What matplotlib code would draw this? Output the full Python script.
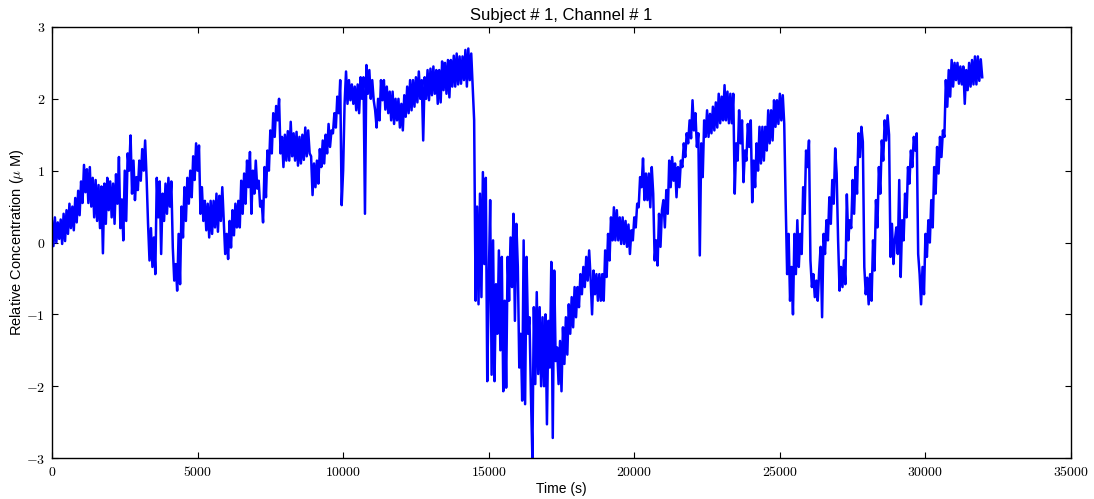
import numpy as np
import matplotlib
matplotlib.use("Agg")
import matplotlib.pyplot as plt
from matplotlib.ticker import FuncFormatter

# sample spacing of the recording (s)
dt = 50

# relative concentration (uM), one row per 1000 s
conc = [
    0.30, -0.05, 0.35, 0.00, 0.28, 0.05, 0.32, -0.02, 0.40, 0.02, 0.45, 0.12, 0.54, 0.20, 0.50, 0.17, 0.62, 0.28, 0.72, 0.38,
    0.85, 0.55, 1.08, 0.70, 1.02, 0.55, 1.05, 0.50, 0.90, 0.35, 0.87, 0.30, 0.80, 0.20, 0.78, -0.15, 0.82, 0.26, 0.90, 0.45,
    0.85, 0.35, 0.82, 0.26, 0.95, 0.54, 1.19, 0.20, 0.60, 0.03, 1.00, 0.30, 1.24, 1.00, 1.49, 0.68, 1.14, 0.59, 0.91, 0.73,
    1.14, 0.86, 1.30, 1.00, 1.42, 0.90, 0.26, -0.25, 0.20, -0.34, 0.07, -0.44, 0.90, 0.35, 0.85, -0.16, 0.68, 0.30, 0.82, 0.40,
    0.90, 0.50, 0.85, -0.07, -0.53, -0.30, -0.67, 0.12, -0.58, 0.50, 0.07, 0.77, 0.30, 0.90, 0.54, 1.00, 0.63, 1.20, 0.87, 1.38,
    1.00, 1.35, 0.40, 0.77, 0.30, 0.58, 0.17, 0.54, 0.07, 0.58, 0.12, 0.58, 0.21, 0.68, 0.15, 0.65, 0.30, 0.77, 0.30, -0.16,
    0.12, -0.23, 0.30, -0.07, 0.45, 0.10, 0.54, 0.21, 0.58, 0.21, 0.86, 0.40, 0.96, 0.54, 1.14, 0.77, 1.26, 0.40, 1.00, 0.68,
    1.14, 0.75, 0.86, 0.50, 0.58, 0.28, 1.05, 0.63, 1.28, 1.00, 1.56, 1.24, 1.80, 1.47, 1.90, 1.70, 2.00, 1.24, 1.47, 1.05,
    1.50, 1.14, 1.55, 1.14, 1.68, 1.20, 1.52, 1.14, 1.54, 1.07, 1.47, 1.10, 1.50, 1.15, 1.60, 1.20, 1.56, 1.24, 1.20, 0.66,
    1.10, 0.77, 1.14, 0.82, 1.30, 1.05, 1.42, 1.10, 1.50, 1.24, 1.65, 1.33, 1.56, 1.52, 1.80, 1.60, 2.03, 1.80, 2.26, 0.52,
    1.00, 1.93, 2.38, 1.93, 2.26, 1.98, 2.20, 1.93, 2.17, 1.84, 2.20, 1.80, 2.30, 2.00, 2.30, 0.40, 2.47, 2.07, 2.40, 2.00,
    2.26, 1.98, 1.84, 1.60, 2.00, 1.70, 2.26, 1.98, 2.26, 1.85, 2.17, 1.80, 2.10, 1.70, 2.10, 1.65, 2.00, 1.70, 2.00, 1.60,
    1.93, 1.56, 2.05, 1.75, 2.17, 1.80, 2.26, 1.84, 2.26, 1.89, 2.30, 1.95, 2.38, 2.00, 2.26, 1.42, 2.30, 2.00, 2.40, 1.98,
    2.42, 2.05, 2.45, 2.07, 2.40, 1.93, 2.40, 1.95, 2.52, 2.12, 2.50, 2.07, 2.54, 2.02, 2.54, 2.17, 2.60, 2.17, 2.63, 2.20,
    2.59, 2.21, 2.59, 2.26, 2.68, 2.17, 2.70, 2.26, 2.63, 2.17, 1.70, -0.81, 0.50, -0.86, 0.68, -0.76, 0.98, -0.30, 0.90, -1.93,
    -0.60, 0.59, -1.84, 0.03, -1.93, -0.58, -1.27, -0.11, -1.50, -0.20, -2.07, -0.81, -2.02, -0.20, -0.81, 0.07, -0.62, 0.40, -1.09, 0.26,
    -0.34, -1.74, -1.27, -2.20, 0.03, -2.25, -0.20, -1.27, -1.04, -2.12, -3.00, -0.90, -1.97, -0.69, -1.83, -0.90, -2.00, -1.04, -2.00, -1.00,
    -2.53, -1.09, -1.74, -0.27, -2.72, -0.39, -1.65, -1.46, -1.97, -1.37, -2.07, -1.18, -1.69, -1.04, -1.56, -0.86, -1.27, -0.76, -1.18, -0.62,
    -1.04, -0.62, -0.90, -0.44, -0.72, -0.34, -0.62, -0.20, -0.53, -0.11, -0.50, -1.00, -0.39, -0.72, -0.44, -0.81, -0.44, -0.81, -0.44, -0.81,
    -0.11, -0.48, 0.12, -0.25, 0.35, 0.03, 0.49, 0.03, 0.45, 0.03, 0.35, -0.02, 0.35, -0.02, 0.30, -0.06, 0.25, -0.16, 0.17, 0.03,
    0.35, 0.21, 0.54, 0.49, 0.91, 0.77, 1.17, 0.59, 0.96, 0.59, 0.96, 0.49, 1.05, 0.68, -0.25, 0.03, -0.32, 0.40, -0.06, 0.45,
    0.59, 0.21, 0.73, 0.40, 1.14, 0.77, 1.19, 0.86, 1.10, 0.63, 1.05, 0.77, 1.14, 1.05, 1.38, 1.19, 1.52, 1.38, 1.70, 1.45,
    1.98, 1.56, 1.80, 1.33, 1.52, -0.18, 1.38, 0.91, 1.70, 1.47, 1.84, 1.47, 1.79, 1.52, 1.89, 1.56, 1.95, 1.60, 2.07, 1.66,
    2.03, 1.70, 2.19, 1.70, 2.10, 1.66, 2.07, 1.66, 2.07, 0.68, 1.38, 1.14, 1.84, 1.38, 1.70, 0.84, 1.28, 1.14, 1.65, 1.33,
    1.70, 0.56, 1.14, 0.77, 1.38, 1.00, 1.61, 1.10, 1.61, 1.14, 1.61, 1.28, 1.84, 1.38, 1.84, 1.42, 1.98, 1.61, 1.98, 1.65,
    2.07, 1.70, 2.05, 1.65, 0.54, -0.44, 0.12, -0.81, -0.34, -1.00, 0.12, -0.44, 0.31, -0.34, 0.12, -0.16, 0.77, 0.40, 1.28, 1.05,
    1.42, -0.25, -0.62, -0.44, -0.76, -0.53, -0.81, -0.39, -0.06, -1.04, 0.12, -0.16, 0.31, 0.03, 0.63, 0.26, 0.87, 0.54, 1.31, 0.96,
    0.03, -0.67, -0.34, -0.62, -0.25, -0.58, 0.67, 0.03, 0.31, 0.20, 0.87, 0.40, 1.05, 0.68, 1.52, 1.19, 1.61, 1.40, -0.34, -0.72,
    -0.49, -0.86, -0.44, -0.81, 0.03, -0.39, 0.59, 0.21, 1.05, 0.68, 1.42, 1.14, 1.70, 1.42, 1.77, 1.50, -0.20, 0.26, -0.30, 0.03,
    0.21, -0.16, 0.87, -0.48, 0.31, 0.03, 0.68, 0.35, 1.05, 0.82, 1.28, 1.05, 1.47, 1.28, 1.52, -0.16, -0.44, -0.86, -0.34, -0.72,
    0.12, -0.20, 0.31, 0.00, 0.59, 0.21, 1.05, 0.68, 1.33, 0.96, 1.47, 1.19, 1.56, 1.47, 2.26, 1.89, 2.40, 2.03, 2.54, 2.17,
    2.50, 2.26, 2.50, 2.21, 2.45, 2.20, 2.45, 1.93, 2.40, 2.12, 2.50, 2.17, 2.54, 2.20, 2.59, 2.20, 2.59, 2.25, 2.55, 2.30,
]
time = np.arange(len(conc)) * dt

plt.rcParams['mathtext.fontset'] = 'cm'
plt.rcParams['font.family'] = ['Liberation Sans', 'DejaVu Sans']

fig = plt.figure(figsize=(10.94, 4.99), dpi=100)
ax = fig.add_axes([0.0475, 0.082, 0.9315, 0.864])

ax.plot(time, conc, color='#0000ff', lw=1.8)

ax.set_xlim(0, 35000)
ax.set_ylim(-3, 3)
ax.set_xticks(np.arange(0, 35001, 5000))
ax.set_yticks(np.arange(-3, 4, 1))
ax.xaxis.set_major_formatter(FuncFormatter(lambda v, p: r'$%d$' % v))
ax.yaxis.set_major_formatter(FuncFormatter(lambda v, p: r'$%d$' % v))
ax.tick_params(direction='in', top=True, right=True, length=4, width=0.8, labelsize=10, pad=5)
for s in ax.spines.values():
    s.set_linewidth(1.0)

ax.set_title('Subject # 1, Channel # 1', fontsize=12, pad=5)
ax.set_xlabel('Time (s)', fontsize=10, labelpad=2)
ax.set_ylabel(r'Relative Concentration ($\mu$ M)', fontsize=10.5, labelpad=0)

fig.savefig('out.png', dpi=100)
